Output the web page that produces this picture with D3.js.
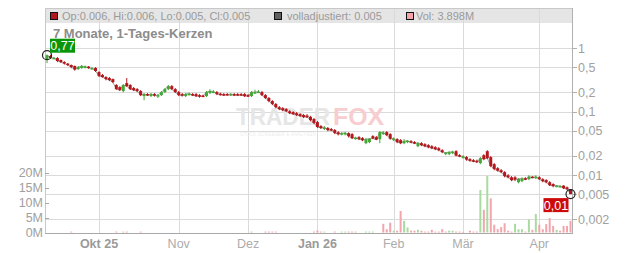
<!DOCTYPE html>
<html>
<head>
<meta charset="utf-8">
<script src="https://cdn.jsdelivr.net/npm/d3@7"></script>
<style>
  body { margin: 0; background: #fff; }
  svg { display: block; font-family: "Liberation Sans", Arial, sans-serif; }
</style>
</head>
<body>
<div id="chart"></div>
<script>
// categories / ticks
const monthLabels = ["Okt 25", "Nov", "Dez", "Jan 26", "Feb", "Mär", "Apr"];
const boldLabels = ["Okt 25", "Jan 26"];
const priceTicks = [1, 0.5, 0.2, 0.1, 0.05, 0.02, 0.01, 0.005, 0.002];
const volumeTicks = [0, 5, 10, 15, 20];
const holidays = ["2025-12-24", "2025-12-25", "2025-12-26"];

// daily candles
const opens = [
  0.647, 0.748, 0.683, 0.695, 0.647, 0.601, 0.569, 0.539, 0.520, 0.466,
  0.483, 0.501, 0.510, 0.475, 0.483, 0.418, 0.375, 0.349, 0.336, 0.324,
  0.261, 0.242, 0.210, 0.280, 0.261, 0.234, 0.225, 0.210, 0.175, 0.188,
  0.175, 0.188, 0.175, 0.181, 0.202, 0.225, 0.251, 0.225, 0.202, 0.188,
  0.175, 0.184, 0.188, 0.188, 0.181, 0.178, 0.175, 0.195, 0.202, 0.202,
  0.191, 0.188, 0.188, 0.181, 0.188, 0.188, 0.188, 0.188, 0.181, 0.175,
  0.195, 0.202, 0.202, 0.181, 0.163, 0.146, 0.131, 0.117, 0.113, 0.109,
  0.101, 0.098, 0.094, 0.091, 0.088, 0.086, 0.082, 0.076, 0.068, 0.059,
  0.053, 0.055, 0.053, 0.051, 0.047, 0.044, 0.044, 0.0456, 0.044, 0.0373,
  0.0394, 0.0380, 0.0317, 0.0329, 0.0409, 0.0394, 0.0367, 0.0448, 0.0473, 0.044,
  0.0354, 0.0367, 0.0354, 0.0317, 0.0329, 0.0341, 0.0329, 0.0284, 0.0317, 0.0306,
  0.0295, 0.0284, 0.0274, 0.0264, 0.0246, 0.0213, 0.0213, 0.0221, 0.0237, 0.0205,
  0.0187, 0.0191, 0.0178, 0.0171, 0.0168, 0.0154, 0.0205, 0.0237, 0.0191, 0.0148,
  0.0128, 0.0119, 0.0111, 0.0099, 0.0092, 0.0092, 0.0077, 0.0080, 0.0089, 0.0086,
  0.0094, 0.0089, 0.0092, 0.0086, 0.0083, 0.0077, 0.0072, 0.0067, 0.0066, 0.0068,
  0.0064, 0.0060
];
const highs = [
  0.79, 0.775, 0.721, 0.72, 0.66, 0.62, 0.58, 0.55, 0.53, 0.52,
  0.54, 0.53, 0.52, 0.50, 0.50, 0.43, 0.39, 0.36, 0.35, 0.33,
  0.27, 0.25, 0.27, 0.336, 0.27, 0.243, 0.234, 0.217, 0.195, 0.195,
  0.195, 0.195, 0.188, 0.210, 0.234, 0.261, 0.261, 0.234, 0.210, 0.195,
  0.195, 0.198, 0.195, 0.195, 0.188, 0.184, 0.210, 0.224, 0.217, 0.210,
  0.198, 0.195, 0.195, 0.195, 0.195, 0.195, 0.195, 0.195, 0.188, 0.210,
  0.22, 0.217, 0.210, 0.188, 0.169, 0.151, 0.136, 0.122, 0.117, 0.113,
  0.105, 0.101, 0.098, 0.094, 0.091, 0.091, 0.085, 0.079, 0.071, 0.061,
  0.059, 0.057, 0.055, 0.053, 0.049, 0.047, 0.048, 0.047, 0.0456, 0.040,
  0.041, 0.0394, 0.038, 0.038, 0.0424, 0.041, 0.049, 0.049, 0.049, 0.0456,
  0.039, 0.038, 0.0367, 0.0367, 0.0354, 0.0354, 0.0341, 0.0329, 0.0329, 0.0317,
  0.0306, 0.0295, 0.0284, 0.0274, 0.0255, 0.0229, 0.0237, 0.0241, 0.0246, 0.0213,
  0.0205, 0.0198, 0.0184, 0.0178, 0.0175, 0.0191, 0.0213, 0.0246, 0.0198, 0.0154,
  0.0133, 0.0124, 0.0115, 0.0103, 0.0096, 0.0096, 0.0089, 0.0092, 0.0092, 0.0099,
  0.0096, 0.0099, 0.0096, 0.0089, 0.0086, 0.0080, 0.0074, 0.0069, 0.0069, 0.0069,
  0.0066, 0.0060
];
const lows = [
  0.58, 0.670, 0.67, 0.60, 0.58, 0.55, 0.52, 0.48, 0.44, 0.45,
  0.47, 0.48, 0.47, 0.46, 0.42, 0.35, 0.34, 0.31, 0.30, 0.28,
  0.22, 0.21, 0.20, 0.243, 0.218, 0.210, 0.202, 0.175, 0.151, 0.175,
  0.169, 0.172, 0.163, 0.175, 0.195, 0.217, 0.217, 0.195, 0.175, 0.172,
  0.169, 0.178, 0.175, 0.169, 0.165, 0.169, 0.169, 0.188, 0.195, 0.181,
  0.178, 0.175, 0.178, 0.175, 0.175, 0.175, 0.175, 0.169, 0.169, 0.169,
  0.188, 0.195, 0.175, 0.157, 0.140, 0.126, 0.113, 0.105, 0.101, 0.098,
  0.091, 0.088, 0.085, 0.082, 0.079, 0.079, 0.070, 0.063, 0.055, 0.053,
  0.051, 0.049, 0.049, 0.044, 0.042, 0.042, 0.042, 0.039, 0.0367, 0.036,
  0.0354, 0.0341, 0.0306, 0.0317, 0.0367, 0.0354, 0.0317, 0.043, 0.041, 0.036,
  0.0341, 0.0317, 0.0306, 0.0306, 0.0317, 0.0317, 0.0306, 0.0274, 0.0284, 0.0274,
  0.0264, 0.0255, 0.0246, 0.0237, 0.0221, 0.0205, 0.0205, 0.0213, 0.0198, 0.0191,
  0.0181, 0.0168, 0.0162, 0.0159, 0.0154, 0.0148, 0.0171, 0.0178, 0.0133, 0.0119,
  0.0113, 0.0107, 0.0092, 0.0089, 0.0080, 0.0080, 0.0074, 0.0077, 0.0083, 0.0083,
  0.0089, 0.0086, 0.0083, 0.0077, 0.0074, 0.0067, 0.0064, 0.0064, 0.0064, 0.0060,
  0.0058, 0.0050
];
const closes = [
  0.770, 0.695, 0.700, 0.624, 0.601, 0.569, 0.539, 0.501, 0.458, 0.501,
  0.520, 0.510, 0.483, 0.483, 0.434, 0.362, 0.349, 0.324, 0.313, 0.291,
  0.225, 0.217, 0.261, 0.251, 0.225, 0.217, 0.210, 0.181, 0.188, 0.181,
  0.188, 0.178, 0.181, 0.202, 0.225, 0.251, 0.225, 0.202, 0.181, 0.178,
  0.188, 0.191, 0.181, 0.175, 0.172, 0.175, 0.202, 0.210, 0.206, 0.188,
  0.184, 0.181, 0.184, 0.188, 0.181, 0.181, 0.181, 0.175, 0.175, 0.202,
  0.202, 0.206, 0.181, 0.163, 0.146, 0.131, 0.117, 0.109, 0.105, 0.101,
  0.094, 0.091, 0.088, 0.085, 0.082, 0.082, 0.073, 0.066, 0.057, 0.055,
  0.056, 0.051, 0.051, 0.046, 0.044, 0.0455, 0.0460, 0.0409, 0.0380, 0.0387,
  0.0367, 0.0354, 0.0367, 0.0373, 0.0376, 0.0360, 0.0473, 0.0464, 0.0424, 0.0373,
  0.0376, 0.0329, 0.0317, 0.0341, 0.0347, 0.0323, 0.0317, 0.0320, 0.0295, 0.0284,
  0.0274, 0.0264, 0.0255, 0.0246, 0.0229, 0.0225, 0.0229, 0.0233, 0.0202, 0.0198,
  0.0196, 0.0175, 0.0168, 0.0165, 0.0159, 0.0184, 0.0178, 0.0184, 0.0138, 0.0124,
  0.0117, 0.0111, 0.0096, 0.0092, 0.0083, 0.0085, 0.0087, 0.0088, 0.0086, 0.0094,
  0.0091, 0.0094, 0.0086, 0.0080, 0.0077, 0.0069, 0.0067, 0.0068, 0.0067, 0.0062,
  0.0060, 0.0050
];
// volume in millions
const volumes = [
  0, 0, 0, 0, 0, 0, 0, 0.3, 0, 0,
  0, 0, 0, 0, 0, 0, 0, 0, 0, 0,
  0.3, 0, 0.3, 0.3, 0, 0, 0, 0.3, 0, 0,
  0, 0, 0, 0, 0, 0, 0, 0, 0, 0,
  0, 0, 0, 0, 0, 0, 0, 0, 0, 0,
  0, 0, 0, 0, 0, 0, 0, 0, 0, 0.3,
  0, 0, 0, 0.3, 0.3, 0.3, 0.3, 0, 0, 0,
  0, 0, 0, 0, 0, 0, 0, 0.3, 0.6, 0.3,
  0.3, 0, 0, 0.3, 0, 0.3, 0.3, 0.3, 0.3, 0.3,
  0, 0, 0.3, 0.3, 0.3, 0, 0, 2.9, 1.1, 3.3,
  0.6, 0.6, 7.2, 3.9, 1.7, 0.6, 0.6, 0.9, 0.6, 0.3,
  0.3, 0.9, 0.3, 0.3, 1.1, 0.3, 0.6, 0.6, 0.3, 0.3,
  0.2, 0, 0.6, 0.3, 0.3, 14.2, 7.6, 18.9, 11.4, 2.6,
  1.1, 1.8, 3.1, 0.6, 0.3, 2.9, 1.1, 1.1, 0.3, 4.4,
  0.9, 6.2, 2.6, 1.1, 2.8, 4.8, 2.2, 0.9, 0.6, 2.2,
  2.2, 3.898
];

const width = 632;
const height = 253;
const plot = { left: 45, right: 572, top: 8, bottom: 233 };

const RED = "#b3171c";
const GREEN = "#44a638";
const VOL_RED = "#f2a5ad";
const VOL_GREEN = "#a9dba1";
const GRID = "#dadada";
const TEXT = "#a0a0a0";

// trading days: weekdays between first and last candle, minus holidays
const fmtDay = d3.timeFormat("%Y-%m-%d");
const dates = d3.timeDay
  .range(new Date(2025, 8, 10), new Date(2026, 3, 15))
  .filter((d) => d.getDay() !== 0 && d.getDay() !== 6 && !holidays.includes(fmtDay(d)));

const candles = dates.map((date, i) => ({
  i,
  date,
  open: opens[i],
  high: highs[i],
  low: lows[i],
  close: closes[i],
  volume: volumes[i],
}));

const monthStarts = candles.filter((c, i) => i > 0 && c.date.getMonth() !== candles[i - 1].date.getMonth());

const x = d3.scalePoint().domain(d3.range(candles.length)).range([47, 570.5]);
const y = d3.scaleLog().domain([1, 0.01]).range([48, 175]);
const yVol = d3.scaleLinear().domain([0, 20]).range([232.5, 172.7]);

const comma = (v) => String(v).replace(".", ",");

const svg = d3
  .select("#chart")
  .append("svg")
  .attr("width", width)
  .attr("height", height)
  .attr("viewBox", [0, 0, width, height]);

// legend strip
svg.append("rect")
  .attr("x", plot.left).attr("y", plot.top)
  .attr("width", plot.right - plot.left).attr("height", 15)
  .attr("fill", "#e5e5e5");

// grid
svg.append("g")
  .selectAll("line")
  .data(priceTicks)
  .join("line")
  .attr("x1", plot.left).attr("x2", plot.right)
  .attr("y1", (d) => Math.round(y(d)) + 0.5).attr("y2", (d) => Math.round(y(d)) + 0.5)
  .attr("stroke", GRID);

svg.append("g")
  .selectAll("line")
  .data(monthStarts)
  .join("line")
  .attr("x1", (d) => Math.round(x(d.i)) + 0.5).attr("x2", (d) => Math.round(x(d.i)) + 0.5)
  .attr("y1", plot.top).attr("y2", plot.bottom)
  .attr("stroke", GRID);

// frame
svg.append("path")
  .attr("d", `M${plot.left + 0.5},${plot.bottom}V${plot.top + 0.5}H${plot.right + 0.5}`)
  .attr("fill", "none").attr("stroke", "#c8c8c8");
svg.append("line")
  .attr("x1", plot.right + 0.5).attr("x2", plot.right + 0.5)
  .attr("y1", plot.top).attr("y2", plot.bottom + 0.5)
  .attr("stroke", "#b0b0b0");
svg.append("line")
  .attr("x1", plot.left).attr("x2", plot.right + 1)
  .attr("y1", plot.bottom + 0.5).attr("y2", plot.bottom + 0.5)
  .attr("stroke", "#a8a8a8");

// watermark
const wm = svg.append("g").attr("font-weight", "bold").attr("font-size", 23);
wm.append("text")
  .attr("x", 236).attr("y", 125)
  .attr("textLength", 94).attr("lengthAdjust", "spacingAndGlyphs")
  .attr("fill", "#e6e6e6").text("TRADER");
wm.append("text")
  .attr("x", 333).attr("y", 125)
  .attr("textLength", 51).attr("lengthAdjust", "spacingAndGlyphs")
  .attr("fill", "#f7cdd0").text("FOX");
svg.append("text")
  .attr("x", 240).attr("y", 136)
  .attr("font-size", 4.5).attr("fill", "#ececec")
  .attr("textLength", 76)
  .text("STOCK SCREENER & ANALYSEN");

// right price axis
const yAxis = svg.append("g");
yAxis.selectAll("line")
  .data(priceTicks)
  .join("line")
  .attr("x1", plot.right).attr("x2", plot.right + 5)
  .attr("y1", (d) => Math.round(y(d)) + 0.5).attr("y2", (d) => Math.round(y(d)) + 0.5)
  .attr("stroke", "#b0b0b0");
yAxis.selectAll("text")
  .data(priceTicks)
  .join("text")
  .attr("x", plot.right + 6)
  .attr("y", (d) => y(d))
  .attr("dy", "0.36em")
  .attr("font-size", 12.5)
  .attr("fill", TEXT)
  .text((d) => comma(d));

// left volume axis
const vAxis = svg.append("g");
vAxis.selectAll("line")
  .data(volumeTicks)
  .join("line")
  .attr("x1", plot.left).attr("x2", plot.left + 4)
  .attr("y1", (d) => Math.round(yVol(d)) + 0.5).attr("y2", (d) => Math.round(yVol(d)) + 0.5)
  .attr("stroke", "#a8a8a8");
vAxis.selectAll("text")
  .data(volumeTicks)
  .join("text")
  .attr("x", plot.left - 2)
  .attr("y", (d) => yVol(d))
  .attr("dy", "0.36em")
  .attr("text-anchor", "end")
  .attr("font-size", 12.5)
  .attr("fill", TEXT)
  .text((d) => `${d}M`);

// x axis labels
svg.append("g")
  .selectAll("text")
  .data(monthStarts)
  .join("text")
  .attr("x", (d) => x(d.i))
  .attr("y", 248)
  .attr("text-anchor", "middle")
  .attr("font-size", 12.5)
  .attr("font-weight", (d, k) => (boldLabels.includes(monthLabels[k]) ? "bold" : "normal"))
  .attr("fill", (d, k) => (boldLabels.includes(monthLabels[k]) ? "#9a9a9a" : "#acacac"))
  .text((d, k) => monthLabels[k]);

// volume bars, coloured by close against previous close
svg.append("g")
  .selectAll("rect")
  .data(candles.filter((c) => c.volume > 0))
  .join("rect")
  .attr("x", (d) => x(d.i) - 1)
  .attr("width", 2)
  .attr("y", (d) => yVol(d.volume))
  .attr("height", (d) => yVol(0) - yVol(d.volume))
  .attr("fill", (d) => {
    const prev = d.i > 0 ? closes[d.i - 1] : d.open;
    return d.close >= prev ? VOL_GREEN : VOL_RED;
  });

// adjusted close line
svg.append("path")
  .datum(candles)
  .attr("d", d3.line().x((d) => x(d.i)).y((d) => y(d.close)))
  .attr("fill", "none")
  .attr("stroke", "#a5a5a5")
  .attr("stroke-width", 1);

// candles
const candle = svg.append("g")
  .selectAll("g")
  .data(candles)
  .join("g")
  .attr("fill", (d) => (d.close >= d.open ? GREEN : RED))
  .attr("stroke", (d) => (d.close >= d.open ? GREEN : RED));

candle.append("line")
  .attr("x1", (d) => x(d.i)).attr("x2", (d) => x(d.i))
  .attr("y1", (d) => y(d.high)).attr("y2", (d) => y(d.low))
  .attr("stroke-width", 1);

candle.append("rect")
  .attr("x", (d) => x(d.i) - 1.5)
  .attr("width", 3)
  .attr("y", (d) => y(Math.max(d.open, d.close)))
  .attr("height", (d) => Math.max(1.5, Math.abs(y(d.open) - y(d.close))))
  .attr("stroke", "none");

// first / last markers
const first = candles[0];
const last = candles[candles.length - 1];

svg.selectAll("circle.marker")
  .data([first, last])
  .join("circle")
  .attr("class", "marker")
  .attr("cx", (d) => x(d.i))
  .attr("cy", (d) => y(d.close))
  .attr("r", 4.5)
  .attr("fill", "none")
  .attr("stroke", "#222")
  .attr("stroke-width", 1.2);

const fmt2 = (v) => comma(d3.format(".2f")(v));

const firstLabel = svg.append("g")
  .attr("transform", `translate(${x(first.i) + 3},${y(first.close) - 16.5})`);
firstLabel.append("rect").attr("width", 25).attr("height", 14).attr("fill", "#0a960a");
firstLabel.append("text")
  .attr("x", 12.5).attr("y", 11.5)
  .attr("text-anchor", "middle")
  .attr("font-size", 12.5).attr("fill", "#fff")
  .text(fmt2(first.close));

const lastLabel = svg.append("g")
  .attr("transform", `translate(${x(last.i) - 27},${y(last.close) + 4})`);
lastLabel.append("rect").attr("width", 25).attr("height", 14).attr("fill", "#cc0a0a");
lastLabel.append("text")
  .attr("x", 12.5).attr("y", 11.5)
  .attr("text-anchor", "middle")
  .attr("font-size", 12.5).attr("fill", "#fff")
  .text(fmt2(last.close));

// title
svg.append("text")
  .attr("x", 53).attr("y", 37.5)
  .attr("font-size", 13).attr("font-weight", "bold")
  .attr("fill", "#8c8c8c")
  .text("7 Monate, 1-Tages-Kerzen");

// legend
const f3 = d3.format(".3f");
const legendItems = [
  { sx: 50, tx: 62, color: RED, text: `Op:${f3(last.open)}, Hi:${f3(last.high)}, Lo:${f3(last.low)}, Cl:${f3(last.close)}` },
  { sx: 274, tx: 287, color: "#606060", text: `volladjustiert: ${f3(last.close)}` },
  { sx: 406, tx: 416, color: VOL_RED, text: `Vol: ${d3.format(".3f")(last.volume)}M` },
];
const legend = svg.append("g").selectAll("g").data(legendItems).join("g");
legend.append("rect")
  .attr("x", (d) => d.sx + 0.5).attr("y", 12.5)
  .attr("width", 7).attr("height", 7)
  .attr("fill", (d) => d.color)
  .attr("stroke", "#111");
legend.append("text")
  .attr("x", (d) => d.tx).attr("y", 19.5)
  .attr("font-size", 11).attr("fill", "#9a9a9a")
  .text((d) => d.text);
</script>
</body>
</html>
